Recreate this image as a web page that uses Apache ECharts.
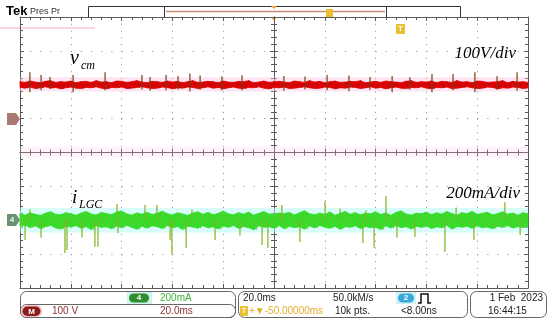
<!DOCTYPE html>
<html><head><meta charset="utf-8">
<script src="https://cdn.jsdelivr.net/npm/echarts@6/dist/echarts.min.js"></script>
<style>html,body{margin:0;padding:0;background:#fff}#c{width:550px;height:325px}</style>
</head><body><div id="c"></div>
<script>
// ---- Data (time in ms, 20 ms/div; v_cm in V, 100 V/div; i_LGC in mA, 200 mA/div) ----
const timeRange = [-100, 100];
// v_cm noise envelope (V), evenly sampled across the record
const redHi = [109,107,111,108,106,110,112,107,109,108,111,106,109,110,107,112,108,109,106,111,110,107,109,112,108,106,110,109,107,111,108,110,106,109,112,107,108,110,109,106,111,108,107,110,109,112,106,108,111,107,109,110,108,106,111,109,107,112,108,110,106,109,111,107,108,110,109,112,106,108,110,107,111,109,108,106,110,112,107,109,108,111,106,110,109,107,112,108,109,106,111,110,107,108,109,112,106,110,108,109,107];
const redLo = [92,90,93,89,91,94,90,92,88,91,93,90,89,92,91,94,90,88,92,91,93,89,90,92,94,91,89,90,93,92,88,91,90,93,92,89,91,94,90,92,88,91,93,90,89,92,91,94,90,88,92,91,93,89,90,92,94,91,89,90,93,92,88,91,90,93,92,89,91,94,90,92,88,91,93,90,89,92,91,94,90,88,92,91,93,89,90,92,94,91,89,90,93,92,88,91,90,93,92,89,91];
// v_cm spikes
const redSpikeT  = [-96.1,-91.7,-88.2,-79.1,-66.5,-52.0,-48.8,-42.5,-37.8,-33.1,-29.1,-20.5,-12.6,3.9,12.2,20.9,29.5,37.8,46.5,53.5,62.2,70.5,79.1,87.8,95.7];
const redSpikeUp = [137,129,123,129,137,129,123,129,125,133,127,125,128,126,124,129,127,123,126,122,132,132,137,125,137];
const redSpikeDn = [78,84,88,78,84,86,82,84,86,80,85,83,84,82,86,84,81,85,78,86,78,84,78,85,82];
// i_LGC noise envelope (mA)
const greenHi = [38,30,44,35,28,41,50,36,32,45,39,29,42,52,37,31,46,40,33,48,55,38,30,43,36,47,34,41,53,39,31,44,37,29,42,50,35,46,33,40,54,38,32,45,36,48,30,41,51,37,34,43,39,47,31,44,56,38,33,42,35,49,30,40,52,36,45,32,41,38,50,34,43,29,46,55,37,31,42,39,48,33,44,36,51,40,30,45,38,53,34,41,47,32,39,50,36,43,30,44,38];
const greenLo = [-36,-29,-43,-33,-48,-38,-30,-45,-52,-35,-40,-31,-47,-37,-55,-32,-42,-39,-50,-34,-44,-30,-41,-53,-36,-46,-33,-38,-49,-31,-43,-37,-54,-35,-40,-47,-32,-45,-39,-51,-34,-42,-30,-48,-37,-44,-56,-33,-41,-38,-46,-31,-50,-36,-43,-39,-52,-34,-45,-30,-41,-47,-35,-53,-38,-42,-32,-49,-37,-44,-40,-55,-33,-46,-31,-43,-38,-51,-36,-42,-34,-48,-39,-45,-30,-52,-37,-41,-35,-47,-33,-44,-40,-50,-36,-42,-31,-46,-38,-43,-35];
// i_LGC spikes
const greenDownT = [-98.0,-91.7,-82.3,-81.5,-75.6,-70.5,-69.3,-61.4,-40.9,-40.2,-34.6,-23.2,-13.4,-4.7,-2.4,10.2,35.0,39.4,48.4,55.5,67.3,78.7,96.9];
const greenDownV = [-116,-104,-193,-175,-104,-157,-157,-76,-116,-199,-163,-116,-90,-146,-163,-128,-134,-163,-104,-98,-187,-116,-87];
const greenUpT = [-96.1,-61.8,-50.8,-46.1,-32.3,3.1,20.1,26.0,36.2,44.1,71.7,90.9];
const greenUpV = [63,96,90,90,63,90,110,70,57,143,76,107];

// channel scaling: screen divisions
const RED_REF = 1, RED_PER_DIV = 100;
const GRN_REF = -2, GRN_PER_DIV = 200;
const rDiv = v => RED_REF + v / RED_PER_DIV;
const gDiv = v => GRN_REF + v / GRN_PER_DIV;

function tAt(i, n) { return timeRange[0] + i * (timeRange[1] - timeRange[0]) / (n - 1); }
function zig(hi, lo, conv) {
  const n = hi.length, step = (timeRange[1] - timeRange[0]) / (n - 1), out = [];
  for (let i = 0; i < n; i++) {
    const t = tAt(i, n);
    out.push([t, conv(hi[i])]);
    if (i < n - 1) out.push([t + step / 2, conv(lo[i])]);
  }
  return out;
}
function bandSeries(hi, lo, conv, color) {
  const n = hi.length, data = [];
  for (let i = 0; i < n - 1; i++) {
    data.push([tAt(i, n), conv(hi[i]), conv(lo[i]), tAt(i + 1, n), conv(hi[i + 1]), conv(lo[i + 1])]);
  }
  return {
    type: 'custom', xAxisIndex: 0, yAxisIndex: 0, z: 3, silent: true,
    encode: { x: [0, 3], y: [1, 2, 4, 5] }, data: data,
    renderItem: (p, api) => {
      const a = api.coord([api.value(0), api.value(1)]);
      const b = api.coord([api.value(3), api.value(4)]);
      const c = api.coord([api.value(3), api.value(5)]);
      const d = api.coord([api.value(0), api.value(2)]);
      return { type: 'polygon', shape: { points: [a, b, c, d] }, style: { fill: color, stroke: color, lineWidth: 0.8 } };
    }
  };
}
function spikeSeries(data, color, w) {
  return {
    type: 'custom', xAxisIndex: 0, yAxisIndex: 0, z: 4, silent: true,
    encode: { x: 0, y: [1, 2] }, data: data,
    renderItem: (p, api) => {
      const a = api.coord([api.value(0), api.value(1)]);
      const b = api.coord([api.value(0), api.value(2)]);
      return { type: 'line', shape: { x1: a[0], y1: a[1], x2: b[0], y2: b[1] }, style: { stroke: color, lineWidth: w } };
    }
  };
}

const F = '"Liberation Sans", Arial, sans-serif';
const SERIF = '"Liberation Serif", "Times New Roman", serif';
const GRID = { left: 20, top: 17, width: 508, height: 271 };
const axCol = '#5a5a5a';

function xAx(gi, pos, onZero, split) {
  return {
    type: 'value', gridIndex: gi, position: pos, min: timeRange[0], max: timeRange[1], interval: 20,
    axisLabel: { show: false },
    axisLine: { show: true, onZero: onZero, lineStyle: { color: axCol, width: 1 } },
    axisTick: { show: true, inside: true, length: 4, lineStyle: { color: axCol } },
    minorTick: { show: true, splitNumber: 5, length: 3, lineStyle: { color: axCol } },
    splitLine: split ? { show: true, lineStyle: { color: '#8a8a8a', width: 1, type: [1, 5.78] } } : { show: false }
  };
}
function yAx(gi, pos, onZero, split) {
  return {
    type: 'value', gridIndex: gi, position: pos, min: -4, max: 4, interval: 1,
    axisLabel: { show: false },
    axisLine: { show: true, onZero: onZero, lineStyle: { color: axCol, width: 1 } },
    axisTick: { show: true, inside: true, length: 4, lineStyle: { color: axCol } },
    minorTick: { show: true, splitNumber: 5, length: 3, lineStyle: { color: axCol } },
    splitLine: split ? { show: true, lineStyle: { color: '#8a8a8a', width: 1, type: [1, 9.16] } } : { show: false }
  };
}

const chart = echarts.init(document.getElementById('c'), null, { renderer: 'canvas' });
chart.setOption({
  animation: false,
  backgroundColor: '#ffffff',
  grid: [Object.assign({}, GRID), Object.assign({}, GRID)],
  xAxis: [xAx(0, 'bottom', false, true), xAx(0, 'top', false, false), xAx(1, 'bottom', true, false), xAx(1, 'top', true, false)],
  yAxis: [yAx(0, 'left', false, true), yAx(0, 'right', false, false), yAx(1, 'left', true, false), yAx(1, 'right', true, false)],
  series: [
    { type: 'line', xAxisIndex: 0, yAxisIndex: 0, data: [], silent: true,
      markArea: { silent: true,
        data: [
          [{ yAxis: rDiv(80), itemStyle: { color: 'rgba(255,190,228,0.40)' } }, { yAxis: rDiv(122) }],
          [{ yAxis: -0.14, itemStyle: { color: 'rgba(255,195,235,0.22)' } }, { yAxis: 0.18 }],
          [{ yAxis: gDiv(-72), itemStyle: { color: 'rgba(175,250,245,0.5)' } }, { yAxis: gDiv(72) }]
        ] } },
    bandSeries(redHi, redLo, rDiv, '#e30000'),
    { type: 'line', xAxisIndex: 0, yAxisIndex: 0, data: zig(redHi, redLo, rDiv), showSymbol: false, z: 3, silent: true,
      lineStyle: { color: '#b80c0c', width: 0.8 } },
    spikeSeries(redSpikeT.map((t, i) => [t, rDiv(redSpikeDn[i]), rDiv(redSpikeUp[i])]), '#7a3c12', 1.2),
    bandSeries(greenHi, greenLo, gDiv, '#2ae02a'),
    { type: 'line', xAxisIndex: 0, yAxisIndex: 0, data: zig(greenHi, greenLo, gDiv), showSymbol: false, z: 3, silent: true,
      lineStyle: { color: '#6cc82a', width: 0.8 } },
    spikeSeries(greenDownT.map((t, i) => [t, gDiv(0), gDiv(greenDownV[i])]), '#7cb51e', 1.2),
    spikeSeries(greenUpT.map((t, i) => [t, gDiv(0), gDiv(greenUpV[i])]), '#7cb51e', 1.2)
  ],
  graphic: [
    // header
    { type: 'text', left: 6, top: 5, style: { text: 'Tek', font: 'bold 13px ' + F, fill: '#000' } },
    { type: 'text', left: 30, top: 7, style: { text: 'Pres Pr', font: '9px ' + F, fill: '#333' } },
    { type: 'rect', shape: { x: 88.5, y: 6.5, width: 372, height: 11 }, style: { fill: '#fff', stroke: '#333', lineWidth: 1 } },
    { type: 'rect', shape: { x: 164.5, y: 6.5, width: 222, height: 11 }, style: { fill: '#fff', stroke: '#333', lineWidth: 1 } },
    { type: 'line', shape: { x1: 166, y1: 11.5, x2: 385, y2: 11.5 }, style: { stroke: '#c98a7a', lineWidth: 1.5 } },
    { type: 'polygon', shape: { points: [[271, 6], [277, 6], [274, 9]] }, style: { fill: '#f0a020' } },
    { type: 'polygon', shape: { points: [[271, 17], [277, 17], [274, 21]] }, style: { fill: '#f0a020' } },
    { type: 'rect', shape: { x: 326, y: 9, width: 7, height: 8 }, style: { fill: '#e8c030' } },
    { type: 'rect', shape: { x: 396, y: 24, width: 9, height: 10, r: 1 }, style: { fill: '#e8c030' } },
    { type: 'text', x: 400.5, y: 29, style: { text: 'T', font: 'bold 8px ' + F, fill: '#fff', align: 'center', verticalAlign: 'middle' } },
    { type: 'rect', shape: { x: 0, y: 27, width: 95, height: 2 }, style: { fill: 'rgba(255,180,220,0.6)' } },
    // channel markers
    { type: 'polygon', shape: { points: [[7, 113], [16, 113], [20, 119], [16, 125], [7, 125]] }, style: { fill: '#a97a72' } },
    { type: 'polygon', shape: { points: [[7, 214], [16, 214], [20, 220], [16, 226], [7, 226]] }, style: { fill: '#6f8f72' } },
    { type: 'text', x: 12, y: 220, style: { text: '4', font: 'bold 8px ' + F, fill: '#dfe', align: 'center', verticalAlign: 'middle' } },
    // annotations
    { type: 'text', x: 70, y: 69, style: { text: 'v', font: 'italic 20px ' + SERIF, fill: '#000', verticalAlign: 'bottom' } },
    { type: 'text', x: 81, y: 72, style: { text: 'cm', font: 'italic 12px ' + SERIF, fill: '#000', verticalAlign: 'bottom' } },
    { type: 'text', x: 72, y: 207, style: { text: 'i', font: 'italic 19px ' + SERIF, fill: '#000', verticalAlign: 'bottom' } },
    { type: 'text', x: 79, y: 211, style: { text: 'LGC', font: 'italic 12px ' + SERIF, fill: '#000', verticalAlign: 'bottom' } },
    { type: 'text', x: 516, y: 62, style: { text: '100V/div', font: 'italic 17px ' + SERIF, fill: '#000', align: 'right', verticalAlign: 'bottom' } },
    { type: 'text', x: 520, y: 202, style: { text: '200mA/div', font: 'italic 17px ' + SERIF, fill: '#000', align: 'right', verticalAlign: 'bottom' } },
    // bottom panel - left
    { type: 'rect', shape: { x: 20.5, y: 291.5, width: 215, height: 26, r: 6 }, style: { fill: 'none', stroke: '#666', lineWidth: 1 } },
    { type: 'rect', shape: { x: 20.5, y: 304.5, width: 215, height: 13, r: 6 }, style: { fill: 'none', stroke: '#666', lineWidth: 1 } },
    { type: 'rect', shape: { x: 127, y: 292, width: 25, height: 12 }, style: { fill: '#cdf3ee' } },
    { type: 'rect', shape: { x: 129, y: 293.5, width: 20, height: 9, r: 4.5 }, style: { fill: '#2f8f2f' } },
    { type: 'text', x: 139, y: 298, style: { text: '4', font: 'bold 8px ' + F, fill: '#fff', align: 'center', verticalAlign: 'middle' } },
    { type: 'text', x: 160, y: 298, style: { text: '200mA', font: '10px ' + F, fill: '#3cb43c', verticalAlign: 'middle' } },
    { type: 'rect', shape: { x: 21, y: 305, width: 21, height: 12, r: 5 }, style: { fill: '#f4c6cc' } },
    { type: 'rect', shape: { x: 22.5, y: 306.5, width: 18, height: 9.5, r: 4.7 }, style: { fill: '#8b1c1c' } },
    { type: 'text', x: 31.5, y: 311.3, style: { text: 'M', font: 'bold 8px ' + F, fill: '#fff', align: 'center', verticalAlign: 'middle' } },
    { type: 'text', x: 52, y: 311, style: { text: '100 V', font: '10px ' + F, fill: '#8b3030', verticalAlign: 'middle' } },
    { type: 'text', x: 160, y: 311, style: { text: '20.0ms', font: '10px ' + F, fill: '#8b3030', verticalAlign: 'middle' } },
    // bottom panel - middle
    { type: 'rect', shape: { x: 238.5, y: 291.5, width: 229, height: 26, r: 6 }, style: { fill: 'none', stroke: '#666', lineWidth: 1 } },
    { type: 'text', x: 243, y: 298, style: { text: '20.0ms', font: '10px ' + F, fill: '#222', verticalAlign: 'middle' } },
    { type: 'text', x: 333, y: 298, style: { text: '50.0kM/s', font: '10px ' + F, fill: '#222', verticalAlign: 'middle' } },
    { type: 'rect', shape: { x: 240, y: 306, width: 8, height: 10, r: 1 }, style: { fill: '#e8c030' } },
    { type: 'text', x: 244, y: 311.3, style: { text: 'T', font: 'bold 7px ' + F, fill: '#fff', align: 'center', verticalAlign: 'middle' } },
    { type: 'text', x: 249, y: 311, style: { text: '+▼-50.00000ms', font: '10px ' + F, fill: '#e3ad2a', verticalAlign: 'middle' } },
    { type: 'text', x: 335, y: 311, style: { text: '10k pts.', font: '10px ' + F, fill: '#222', verticalAlign: 'middle' } },
    { type: 'rect', shape: { x: 396, y: 292, width: 20, height: 12 }, style: { fill: '#cdf3f5' } },
    { type: 'rect', shape: { x: 398, y: 293.5, width: 16, height: 9, r: 4.5 }, style: { fill: '#3aa8dc' } },
    { type: 'text', x: 406, y: 298, style: { text: '2', font: 'bold 8px ' + F, fill: '#fff', align: 'center', verticalAlign: 'middle' } },
    { type: 'polyline', shape: { points: [[418, 303], [421, 303], [421, 294], [428, 294], [428, 303], [431, 303]] }, style: { stroke: '#111', lineWidth: 1.5, fill: 'none' } },
    { type: 'text', x: 401, y: 311, style: { text: '<8.00ns', font: '10px ' + F, fill: '#222', verticalAlign: 'middle' } },
    // bottom panel - right
    { type: 'rect', shape: { x: 470.5, y: 291.5, width: 76, height: 26, r: 6 }, style: { fill: 'none', stroke: '#666', lineWidth: 1 } },
    { type: 'text', x: 543, y: 298, style: { text: '1 Feb  2023', font: '10px ' + F, fill: '#222', align: 'right', verticalAlign: 'middle' } },
    { type: 'text', x: 488, y: 311, style: { text: '16:44:15', font: '10px ' + F, fill: '#222', verticalAlign: 'middle' } }
  ]
});
</script>
</body></html>
